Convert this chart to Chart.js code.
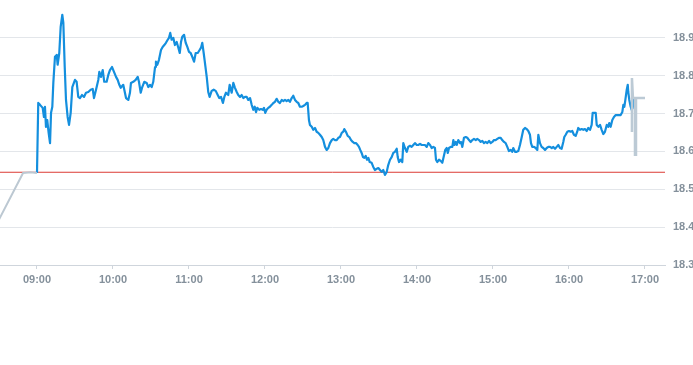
<!DOCTYPE html>
<html>
<head>
<meta charset="utf-8">
<script src="https://cdn.jsdelivr.net/npm/chart.js@4"></script>
<style>
  html, body { margin: 0; padding: 0; background: #ffffff; }
  #wrap { position: relative; width: 693px; height: 300px; }
</style>
</head>
<body>
<div id="wrap"><canvas id="c"></canvas></div>
<script>
// Time axis: minutes after 09:00
const hourTicks = [0, 60, 120, 180, 240, 300, 360, 420, 480];
const hourLabels = ['09:00', '10:00', '11:00', '12:00', '13:00', '14:00', '15:00', '16:00', '17:00'];
const priceTicks = [18.3, 18.4, 18.5, 18.6, 18.7, 18.8, 18.9];
const axisMin = -29.2, axisMax = 495.8;
const priceMin = 18.3, priceMax = 19.0;

const prevClose = 18.545;

// Pre-market (grey)
const preTimes = [-30, -11, -5, 0];
const prePrices = [18.42, 18.543, 18.545, 18.543];

// Regular session (blue)
const sessionTimes = [
  0, 1.0, 2.4, 4.5, 5.5, 6.3, 7.1, 8.1, 9.2, 10.3, 11.1, 12.1, 12.9, 14.2, 15.6, 16.3, 17.6, 18.7, 20.0, 20.8,
  21.9, 22.9, 24.2, 25.3, 26.6, 27.9, 30.0, 31.3, 32.6, 33.9, 35.5, 37.1, 38.7, 40.5, 42.4, 44.0, 45.0, 46.6, 48.4, 49.2,
  50.5, 51.9, 53.1, 55.0, 56.3, 57.6, 59.2, 60.8, 62.4, 63.7, 65.0, 66.1, 68.1, 70.3, 72.1, 73.4, 74.2, 76.0, 77.9, 79.5,
  80.5, 81.9, 83.1, 84.7, 86.6, 87.9, 89.2, 90.6, 91.8, 93.2, 93.9, 95.0, 96.3, 97.9, 99.2, 100.5, 101.8, 103.2, 104.2, 105.2,
  106.3, 107.6, 108.9, 110.3, 111.6, 112.7, 113.7, 114.7, 116.1, 117.4, 118.7, 120.0, 121.3, 122.6, 124.0, 125.3, 126.9, 128.4, 129.5, 130.5,
  131.6, 132.6, 134.0, 135.2, 136.3, 137.9, 139.5, 141.1, 142.7, 143.9, 145.3, 146.8, 147.9, 149.2, 151.0, 152.1, 153.7, 155.0, 156.3, 157.7,
  158.9, 160.3, 161.6, 162.9, 164.2, 165.6, 166.8, 168.2, 169.5, 170.8, 171.9, 172.9, 173.9, 175.5, 176.8, 178.2, 179.2, 180.2, 181.3, 182.6,
  183.9, 185.3, 186.6, 187.9, 189.2, 190.5, 191.8, 193.2, 194.5, 195.8, 197.1, 198.4, 199.7, 201.1, 202.3, 203.7, 205.0, 206.3, 207.6, 209.0,
  210.2, 211.6, 212.9, 213.7, 214.7, 215.5, 216.9, 218.1, 219.5, 220.8, 222.1, 223.4, 224.8, 226.0, 227.4, 228.7, 230.0, 231.3, 232.7, 233.9,
  235.3, 236.6, 237.9, 239.2, 240.6, 241.8, 242.6, 243.9, 245.3, 246.6, 247.9, 249.3, 250.5, 251.8, 253.2, 254.2, 255.2, 256.3, 257.4, 258.4,
  259.5, 260.5, 261.6, 262.7, 264.2, 265.5, 266.8, 268.2, 269.5, 270.8, 272.1, 273.4, 274.7, 276.1, 277.3, 278.7, 280.0, 281.3, 282.6, 284.0,
  284.8, 285.8, 287.1, 288.4, 289.2, 290.5, 291.9, 293.1, 294.5, 295.8, 297.1, 298.4, 299.8, 301.0, 302.4, 303.7, 305.0, 306.3, 307.7, 308.9,
  310.3, 311.6, 312.9, 314.2, 315.0, 316.0, 317.4, 318.7, 320.0, 322.3, 323.5, 324.3, 325.3, 326.6, 327.9, 328.7, 329.5, 330.6, 331.4, 332.6,
  334.0, 334.8, 335.8, 337.1, 338.5, 339.7, 341.1, 342.4, 343.7, 345.0, 346.4, 347.6, 349.0, 350.3, 351.6, 352.9, 354.2, 355.5, 356.9, 358.2,
  359.5, 360.8, 362.1, 363.4, 364.7, 366.1, 367.3, 368.7, 370.0, 371.3, 372.6, 374.0, 375.2, 376.0, 377.4, 378.7, 380.0, 381.3, 382.7, 383.9,
  385.3, 386.6, 387.9, 389.2, 390.0, 391.0, 392.4, 393.7, 395.0, 395.8, 397.1, 398.4, 399.7, 401.1, 402.4, 403.7, 405.0, 406.4, 407.6, 409.0,
  410.3, 411.6, 412.9, 414.2, 415.5, 416.3, 417.4, 418.7, 420.0, 421.3, 422.6, 423.9, 425.3, 426.5, 427.3, 428.7, 430.0, 431.3, 432.6, 434.0,
  435.2, 436.6, 437.9, 438.7, 440.0, 441.1, 441.9, 443.2, 444.5, 445.8, 447.1, 448.4, 449.8, 451.0, 451.8, 452.9, 454.2, 455.5, 456.9, 458.1,
  459.5, 460.8, 462.1, 462.9, 463.7, 464.5, 465.6, 466.4, 466.8, 467.6, 468.7, 469.5, 470.3, 471.1, 471.6, 473.7
];
const sessionPrices = [
  18.543, 18.728, 18.723, 18.715, 18.691, 18.718, 18.665, 18.683, 18.649, 18.622, 18.702, 18.718, 18.781, 18.850, 18.855, 18.829, 18.860, 18.929, 18.961, 18.940,
  18.823, 18.736, 18.691, 18.670, 18.702, 18.770, 18.789, 18.784, 18.744, 18.741, 18.749, 18.744, 18.755, 18.757, 18.763, 18.765, 18.741, 18.763, 18.789, 18.810,
  18.797, 18.815, 18.784, 18.784, 18.802, 18.815, 18.823, 18.810, 18.797, 18.789, 18.776, 18.768, 18.776, 18.741, 18.736, 18.755, 18.781, 18.784, 18.789, 18.797,
  18.784, 18.755, 18.770, 18.784, 18.781, 18.770, 18.776, 18.770, 18.784, 18.823, 18.837, 18.829, 18.842, 18.868, 18.876, 18.881, 18.887, 18.895, 18.900, 18.913,
  18.895, 18.900, 18.881, 18.889, 18.874, 18.860, 18.889, 18.903, 18.908, 18.887, 18.876, 18.863, 18.860, 18.850, 18.837, 18.860, 18.860, 18.868, 18.874, 18.887,
  18.860, 18.834, 18.797, 18.757, 18.744, 18.760, 18.763, 18.760, 18.749, 18.741, 18.744, 18.728, 18.744, 18.755, 18.749, 18.776, 18.755, 18.781, 18.768, 18.757,
  18.749, 18.744, 18.749, 18.741, 18.744, 18.744, 18.736, 18.741, 18.723, 18.710, 18.718, 18.704, 18.715, 18.710, 18.712, 18.710, 18.715, 18.702, 18.710, 18.715,
  18.718, 18.723, 18.728, 18.731, 18.739, 18.731, 18.728, 18.736, 18.733, 18.736, 18.733, 18.736, 18.731, 18.741, 18.747, 18.736, 18.731, 18.728, 18.718, 18.718,
  18.720, 18.723, 18.728, 18.728, 18.683, 18.670, 18.665, 18.657, 18.662, 18.652, 18.649, 18.644, 18.638, 18.630, 18.612, 18.604, 18.609, 18.622, 18.630, 18.633,
  18.630, 18.630, 18.636, 18.638, 18.649, 18.652, 18.659, 18.652, 18.641, 18.638, 18.630, 18.625, 18.622, 18.622, 18.617, 18.612, 18.604, 18.596, 18.585, 18.583,
  18.588, 18.578, 18.583, 18.572, 18.570, 18.559, 18.551, 18.554, 18.556, 18.551, 18.546, 18.551, 18.538, 18.546, 18.564, 18.578, 18.585, 18.596, 18.599, 18.607,
  18.585, 18.572, 18.578, 18.572, 18.622, 18.609, 18.599, 18.612, 18.615, 18.612, 18.617, 18.622, 18.617, 18.617, 18.620, 18.617, 18.617, 18.617, 18.612, 18.622,
  18.617, 18.609, 18.612, 18.609, 18.578, 18.572, 18.578, 18.575, 18.570, 18.604, 18.609, 18.596, 18.609, 18.612, 18.612, 18.630, 18.617, 18.625, 18.617, 18.630,
  18.622, 18.625, 18.612, 18.636, 18.638, 18.636, 18.630, 18.625, 18.630, 18.633, 18.630, 18.633, 18.630, 18.625, 18.628, 18.622, 18.625, 18.622, 18.628, 18.622,
  18.625, 18.630, 18.630, 18.633, 18.636, 18.636, 18.630, 18.625, 18.622, 18.612, 18.601, 18.604, 18.599, 18.609, 18.599, 18.599, 18.601, 18.617, 18.638, 18.657,
  18.662, 18.659, 18.654, 18.644, 18.622, 18.612, 18.612, 18.609, 18.604, 18.644, 18.622, 18.612, 18.609, 18.604, 18.609, 18.612, 18.612, 18.609, 18.612, 18.607,
  18.612, 18.617, 18.609, 18.607, 18.625, 18.638, 18.644, 18.652, 18.654, 18.652, 18.654, 18.644, 18.641, 18.652, 18.662, 18.657, 18.659, 18.657, 18.659, 18.654,
  18.662, 18.657, 18.670, 18.702, 18.702, 18.702, 18.670, 18.665, 18.670, 18.657, 18.646, 18.652, 18.670, 18.665, 18.675, 18.665, 18.683, 18.691, 18.696, 18.696,
  18.696, 18.696, 18.704, 18.723, 18.718, 18.736, 18.763, 18.776, 18.757, 18.736, 18.718, 18.710, 18.715, 18.736, 18.741, 18.741
];

// After-hours (grey)
const postTimes = [469.7, 469.7, 470.5, 472.1, 472.1, 472.9, 472.9, 480.0];
const postPrices = [18.651, 18.794, 18.741, 18.741, 18.591, 18.591, 18.741, 18.741];

const toPts = (xs, ys) => xs.map((x, i) => ({ x: x, y: ys[i] }));

const tickColor = '#84909b';
const fontFam = '"Liberation Sans", Arial, sans-serif';

new Chart(document.getElementById('c'), {
  type: 'line',
  data: {
    datasets: [
      {
        data: [{ x: axisMin, y: prevClose }, { x: axisMax, y: prevClose }],
        borderColor: '#dc3b35', borderWidth: 1, pointRadius: 0, tension: 0, order: 3
      },
      {
        data: toPts(sessionTimes, sessionPrices),
        borderColor: '#148fde', borderWidth: 2.2, pointRadius: 0, tension: 0, order: 2,
        borderJoinStyle: 'round'
      },
      {
        data: toPts(preTimes, prePrices),
        borderColor: '#bcc8d2', borderWidth: 2, pointRadius: 0, tension: 0, order: 1
      },
      {
        data: toPts(postTimes, postPrices),
        borderColor: '#bccad5', borderWidth: 2.5, pointRadius: 0, tension: 0, order: 1
      }
    ]
  },
  options: {
    responsive: true,
    maintainAspectRatio: false,
    animation: false,
    layout: { padding: 0 },
    plugins: { legend: { display: false }, tooltip: { enabled: false } },
    scales: {
      x: {
        type: 'linear',
        min: axisMin,
        max: axisMax,
        afterBuildTicks: (s) => { s.ticks = hourTicks.map(v => ({ value: v })); },
        afterFit: (s) => { s.height = 35; s.paddingLeft = 0; s.paddingRight = 0; },
        ticks: {
          autoSkip: false,
          maxRotation: 0,
          padding: 4,
          color: tickColor,
          font: { family: fontFam, size: 11, weight: 'bold' },
          callback: (v, i) => hourLabels[i]
        },
        grid: {
          drawOnChartArea: false,
          drawTicks: true,
          tickLength: 4,
          color: '#cfd5dc'
        },
        border: { display: true, color: '#cfd5dc', width: 1 }
      },
      y: {
        position: 'right',
        min: priceMin,
        max: priceMax,
        afterBuildTicks: (s) => { s.ticks = priceTicks.map(v => ({ value: v })); },
        afterFit: (s) => { s.width = 28; s.paddingTop = 0; s.paddingBottom = 0; },
        ticks: {
          padding: 8,
          color: tickColor,
          font: { family: fontFam, size: 11, weight: 'bold' },
          callback: (v) => v.toFixed(1)
        },
        grid: { drawTicks: false, color: '#e3e6ea' },
        border: { display: false }
      }
    }
  }
});
</script>
</body>
</html>
